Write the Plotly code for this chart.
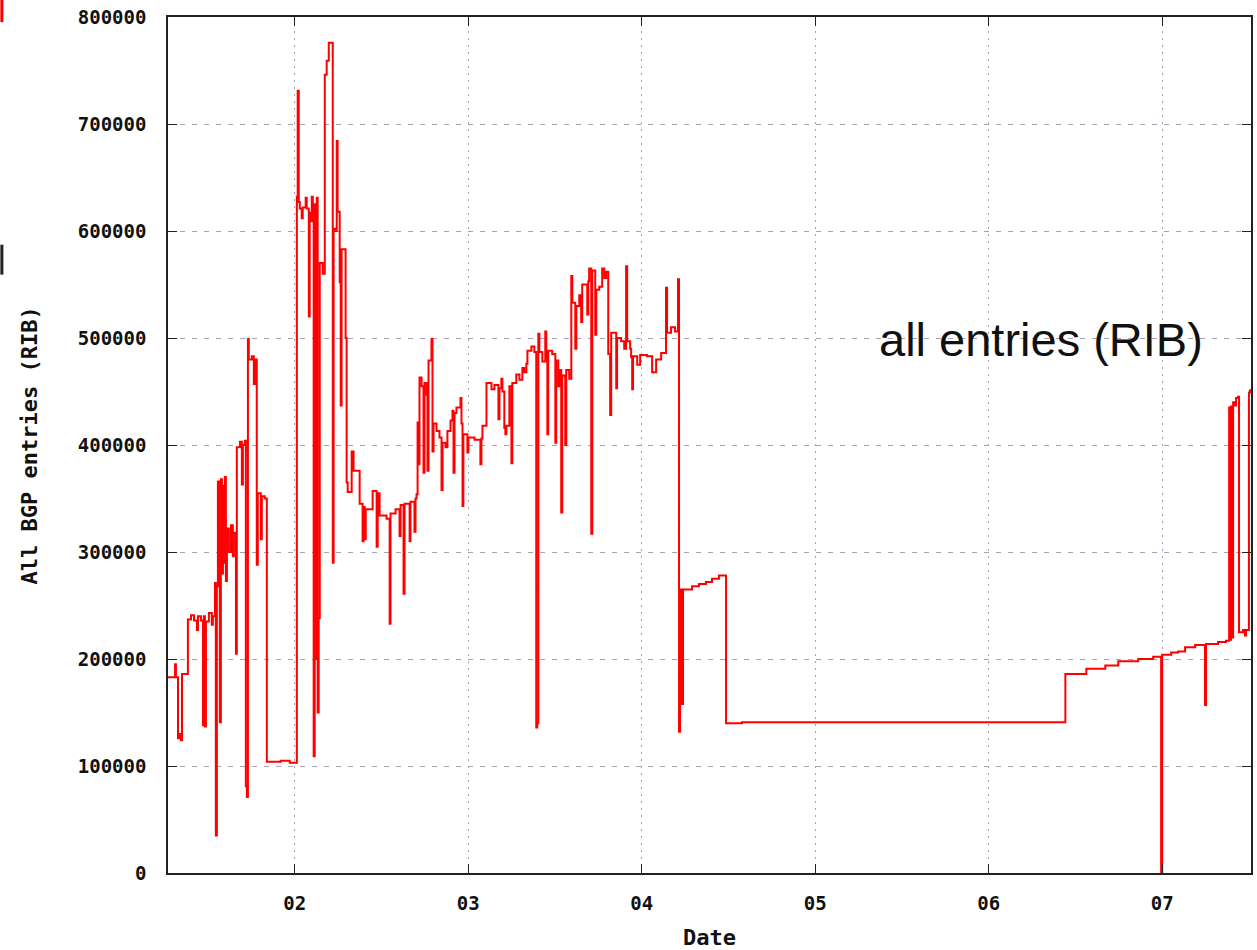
import plotly.graph_objects as go

# Time axis: day of month (fractional); values: BGP RIB entries (thousands)
DAY = [
    1.269, 1.310, 1.315, 1.327, 1.338, 1.344, 1.350, 1.384, 1.402, 1.419,
    1.436, 1.442, 1.459, 1.471, 1.476, 1.482, 1.488, 1.505, 1.522, 1.528,
    1.540, 1.545, 1.551, 1.557, 1.563, 1.568, 1.574, 1.580, 1.586, 1.591,
    1.597, 1.603, 1.609, 1.620, 1.632, 1.643, 1.649, 1.661, 1.666, 1.684,
    1.695, 1.701, 1.712, 1.718, 1.724, 1.730, 1.735, 1.753, 1.764, 1.770,
    1.781, 1.787, 1.804, 1.810, 1.827, 1.839, 1.919, 1.971,
    2.012, 2.017, 2.023, 2.029, 2.040, 2.046, 2.063, 2.069, 2.081, 2.086,
    2.092, 2.098, 2.104, 2.109, 2.115, 2.121, 2.127, 2.132, 2.138, 2.144,
    2.161, 2.173, 2.184, 2.196, 2.219, 2.224, 2.236, 2.242, 2.247, 2.259,
    2.265, 2.270, 2.293, 2.299,
    2.305, 2.328, 2.339, 2.374, 2.391, 2.397, 2.403, 2.409, 2.449, 2.472,
    2.478, 2.489, 2.529, 2.547, 2.552, 2.581, 2.604, 2.610, 2.627, 2.633,
    2.662, 2.667, 2.690, 2.696, 2.702, 2.708, 2.713, 2.719, 2.731, 2.742,
    2.748, 2.760, 2.765, 2.771, 2.788, 2.794, 2.800, 2.817, 2.834, 2.846,
    2.852, 2.869, 2.880, 2.898, 2.909, 2.915, 2.921, 2.932, 2.955, 2.961,
    2.967, 2.972, 2.995, 3.001, 3.036, 3.070, 3.076, 3.082, 3.105, 3.134,
    3.151, 3.174, 3.180, 3.191, 3.197, 3.208, 3.214, 3.220, 3.237, 3.249,
    3.254, 3.277, 3.295, 3.312, 3.323, 3.335, 3.341, 3.364, 3.381, 3.392,
    3.398, 3.404, 3.410, 3.427, 3.444, 3.450, 3.456, 3.461, 3.484, 3.502,
    3.507, 3.519, 3.525, 3.536, 3.542, 3.559, 3.565, 3.582, 3.594, 3.600,
    3.617, 3.623, 3.640, 3.651, 3.657, 3.686, 3.692, 3.697, 3.709, 3.715,
    3.732, 3.738, 3.755, 3.772, 3.784, 3.795, 3.807, 3.818, 3.824, 3.853,
    3.858, 3.881, 3.899, 3.910, 3.916, 3.933, 3.939, 3.945, 3.950, 3.974,
    3.991, 4.031, 4.060, 4.083, 4.112, 4.140, 4.146, 4.169, 4.192, 4.209,
    4.215, 4.221, 4.232, 4.238, 4.290, 4.330, 4.370, 4.405, 4.445, 4.486,
    4.578, 6.442, 6.563, 6.672, 6.747, 6.862, 6.948, 6.994, 7.000, 7.052,
    7.092, 7.132, 7.190, 7.247, 7.253, 7.322, 7.368, 7.386, 7.391, 7.397,
    7.403, 7.409, 7.420, 7.426, 7.437, 7.443, 7.466, 7.477, 7.483, 7.500,
    7.506,
]

ENTRIES_K = [
    183, 195, 183, 126, 130, 124, 186, 237, 241, 236,
    227, 240, 236, 138, 240, 137, 235, 243, 232, 240,
    271, 35, 268, 366, 275, 141, 368, 280, 362, 290,
    370, 273, 322, 300, 325, 296, 318, 205, 398, 403,
    363, 400, 404, 81, 71, 499, 480, 483, 457, 480,
    288, 355, 312, 352, 350, 104, 105, 103,
    632, 731, 627, 621, 612, 622, 631, 621, 520, 617,
    609, 632, 620, 109, 625, 200, 631, 150, 238, 570,
    560, 746, 759, 776, 290, 602, 600, 684, 618, 552,
    437, 583, 500, 365,
    356, 394, 376, 345, 310, 342, 312, 340, 357, 305,
    355, 334, 331, 233, 336, 340, 315, 344, 261, 345,
    310, 347, 319, 350, 354, 421, 382, 463, 455, 374,
    458, 447, 376, 479, 499, 394, 420, 413, 407, 358,
    402, 398, 413, 423, 432, 374, 430, 435, 444, 420,
    343, 410, 393, 407, 405, 382, 406, 418, 458, 452,
    456, 424, 453, 462, 450, 416, 410, 418, 455, 383,
    458, 466, 461, 472, 468, 476, 488, 492, 487, 136,
    140, 504, 487, 478, 506, 478, 410, 488, 485, 402,
    479, 455, 470, 337, 465, 400, 470, 462, 558, 533,
    490, 530, 540, 515, 550, 522, 553, 565, 317, 563,
    503, 545, 548, 565, 556, 562, 485, 428, 505, 453,
    500, 497, 490, 567, 497, 490, 482, 452, 483, 475,
    484, 483, 468, 480, 486, 547, 505, 510, 506, 555,
    132, 265, 158, 265, 268, 270, 272, 275, 278, 140,
    141, 186, 191, 194, 198, 200, 202, 0, 204, 206,
    207, 211, 213, 157, 214, 216, 217, 435, 218, 436,
    220, 440, 437, 444, 445, 225, 227, 222, 227, 449,
    452,
]

TICK_DAYS = [2, 3, 4, 5, 6, 7]
TICK_LABELS = ["02", "03", "04", "05", "06", "07"]
Y_TICKS = [0, 100000, 200000, 300000, 400000, 500000, 600000, 700000, 800000]

entries = [v * 1000 for v in ENTRIES_K]

GRID = "#a99fb2"
TICKFONT = dict(family="DejaVu Sans Mono", size=19, color="#111111", weight="bold")
TITLEFONT = dict(family="DejaVu Sans Mono", size=22, color="#111111", weight="bold")

fig = go.Figure()
fig.add_trace(go.Scatter(
    x=DAY, y=entries, mode="lines",
    line=dict(color="#ff0000", width=2, shape="hv"),
    showlegend=False,
))

fig.update_layout(
    width=1257, height=950,
    margin=dict(l=168, r=4, t=17, b=77),
    paper_bgcolor="white", plot_bgcolor="white",
    xaxis=dict(
        range=[1.2693, 7.512], tickmode="array", tickvals=TICK_DAYS, ticktext=TICK_LABELS,
        showgrid=True, gridcolor=GRID, gridwidth=1, griddash="2px,5px",
        showline=True, linecolor="#222222", linewidth=1.5, mirror="ticks",
        ticks="inside", ticklen=9, tickcolor="#222222", tickwidth=1,
        tickfont=TICKFONT, ticklabelstandoff=12, zeroline=False,
    ),
    yaxis=dict(
        range=[0, 800000], tickmode="array", tickvals=Y_TICKS,
        ticktext=[str(v) for v in Y_TICKS],
        showgrid=True, gridcolor=GRID, gridwidth=1, griddash="5px,7px",
        showline=True, linecolor="#222222", linewidth=1.5, mirror="ticks",
        ticks="inside", ticklen=9, tickcolor="#222222", tickwidth=1,
        tickfont=TICKFONT, ticklabelstandoff=16, zeroline=False,
    ),
    annotations=[
        dict(text="All BGP entries (RIB)", xref="paper", yref="paper",
             x=-0.128, y=0.5, textangle=-90, showarrow=False,
             font=TITLEFONT, xanchor="center", yanchor="middle"),
        dict(text="Date", xref="paper", yref="paper", x=0.5, y=-0.075,
             showarrow=False, font=TITLEFONT, xanchor="center", yanchor="middle"),
        dict(text="all entries (RIB)", xref="paper", yref="paper", x=0.806, y=0.623,
             showarrow=False,
             font=dict(family="Liberation Sans", size=47, color="#111111"),
             xanchor="center", yanchor="middle"),
    ],
    shapes=[
        dict(type="rect", xref="paper", yref="paper", x0=-0.1548, x1=-0.152,
             y0=0.994, y1=1.02, fillcolor="#ff0000", line=dict(width=0)),
        dict(type="rect", xref="paper", yref="paper", x0=-0.1548, x1=-0.152,
             y0=0.699, y1=0.734, fillcolor="#222222", line=dict(width=0)),
    ],
)

fig.write_html(
    "out.html",
    config={"displayModeBar": False},
    post_script="document.body.style.margin='0';document.body.style.overflow='hidden';",
)
